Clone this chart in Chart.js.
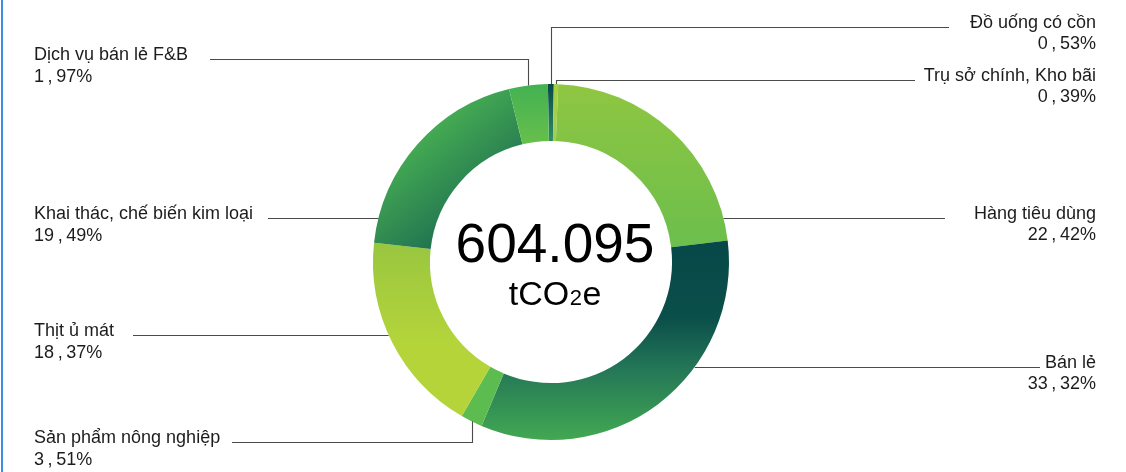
<!DOCTYPE html>
<html>
<head>
<meta charset="utf-8">
<script src="https://cdn.jsdelivr.net/npm/chart.js@4.4.1/dist/chart.umd.min.js"></script>
<style>
  html, body { margin: 0; padding: 0; background: #fff; }
  .wrap { position: relative; width: 1126px; height: 472px; overflow: hidden; }
  .edge { position: absolute; left: 1px; top: 0; width: 2px; height: 472px; background: #3a8ee4; }
</style>
</head>
<body>
<div class="wrap">
  <canvas id="mixChart" width="1126" height="472"></canvas>
  <div class="edge"></div>
</div>
<script>
// Emission sectors, clockwise from 12 o'clock
const categories = [
    'Đồ uống có cồn',
    'Trụ sở chính, Kho bãi',
    'Hàng tiêu dùng',
    'Bán lẻ',
    'Sản phẩm nông nghiệp',
    'Thịt ủ mát',
    'Khai thác, chế biến kim loại',
    'Dịch vụ bán lẻ F&B'
];
// wedge sizes as drawn in the picture (%)
const shares = [0.53, 0.39, 22.42, 33.32, 1.97, 18.37, 19.49, 3.51];
// percentages as printed next to each label
const shareLabels = ['0,53%', '0,39%', '22,42%', '33,32%', '3,51%', '18,37%', '19,49%', '1,97%'];
const totalValue = '604.095';
const totalUnit = ['tCO', '2', 'e'];

// label placement: side, leader line y, outer end of the line, elbow into the ring or not
const labelLayout = [
    { side: 'right', y: 27,  lineEnd: 949,  elbow: true },
    { side: 'right', y: 80,  lineEnd: 915,  elbow: true },
    { side: 'right', y: 218, lineEnd: 945,  elbow: false },
    { side: 'right', y: 367, lineEnd: 1040, elbow: false },
    { side: 'left',  y: 442, lineEnd: 232,  elbow: true },
    { side: 'left',  y: 335, lineEnd: 133,  elbow: false },
    { side: 'left',  y: 218, lineEnd: 268,  elbow: false },
    { side: 'left',  y: 59,  lineEnd: 210,  elbow: true }
];

// fills: points are relative to the ring centre, in units of the outer radius
const fills = [
    { from: [0, -1], to: [0, -0.7], stops: [[0, '#0a4746'], [1, '#2c8a6a']] },
    { color: '#a4cf47' },
    { from: [0, -1], to: [0, 0.05], stops: [[0, '#8fc641'], [1, '#67bd4e']] },
    { from: [0, -0.05], to: [0, 1], stops: [[0, '#074948'], [0.35, '#0b4f4a'], [0.62, '#247757'], [1, '#42a852']] },
    { color: '#5dbc50' },
    { from: [0, -0.12], to: [0, 0.45], stops: [[0, '#98c640'], [1, '#b4d43a']] },
    { from: [-0.95, -0.6], to: [-0.5, -0.05], stops: [[0, '#48b153'], [1, '#196650']] },
    { from: [0, -1], to: [0, -0.62], stops: [[0, '#43b152'], [1, '#6cc14b']] }
];

const FONT = '"Liberation Sans", Arial, sans-serif';

function segmentFill(context) {
    const f = fills[context.dataIndex];
    const area = context.chart.chartArea;
    if (f.color) return f.color;
    if (!area) return f.stops[0][1];
    const cx = (area.left + area.right) / 2;
    const cy = (area.top + area.bottom) / 2;
    const r = Math.min(area.right - area.left, area.bottom - area.top) / 2;
    const g = context.chart.ctx.createLinearGradient(
        cx + f.from[0] * r, cy + f.from[1] * r,
        cx + f.to[0] * r, cy + f.to[1] * r);
    f.stops.forEach(s => g.addColorStop(s[0], s[1]));
    return g;
}

function spaced(txt) {
    return txt.replace(',', '\u2009,\u2009');
}

const calloutPlugin = {
    id: 'callouts',
    afterDraw(chart) {
        const ctx = chart.ctx;
        const arcs = chart.getDatasetMeta(0).data;
        ctx.save();

        categories.forEach((name, i) => {
            const arc = arcs[i];
            const L = labelLayout[i];
            const R = arc.outerRadius;
            const mid = (arc.startAngle + arc.endAngle) / 2;
            const ly = Math.round(L.y) + 0.5;

            ctx.strokeStyle = '#4b4b4b';
            ctx.lineWidth = 1.1;
            ctx.beginPath();
            if (L.elbow) {
                const ax = Math.round(arc.x + R * Math.cos(mid)) + 0.5;
                const ay = arc.y + R * Math.sin(mid);
                ctx.moveTo(L.lineEnd, ly);
                ctx.lineTo(ax, ly);
                ctx.lineTo(ax, ay);
            } else {
                const dy = L.y - arc.y;
                const dx = Math.sqrt(Math.max(R * R - dy * dy, 0));
                ctx.moveTo(L.lineEnd, ly);
                ctx.lineTo(L.side === 'left' ? arc.x - dx : arc.x + dx, ly);
            }
            ctx.stroke();

            ctx.fillStyle = '#1c1c1c';
            ctx.font = '18px ' + FONT;
            ctx.textBaseline = 'alphabetic';
            if (L.side === 'left') {
                ctx.textAlign = 'left';
                ctx.fillText(name, 34, L.y + 1);
                ctx.fillText(spaced(shareLabels[i]), 34, L.y + 23);
            } else {
                ctx.textAlign = 'right';
                ctx.fillText(name, 1096, L.y + 1);
                ctx.fillText(spaced(shareLabels[i]), 1096, L.y + 22);
            }
        });

        // total in the hole
        const c = arcs[0];
        const tx = c.x + 4;
        ctx.fillStyle = '#000';
        ctx.textAlign = 'center';
        ctx.font = '55px ' + FONT;
        ctx.fillText(totalValue, tx, c.y);

        const big = '34px ' + FONT, small = '22px ' + FONT;
        ctx.font = big;
        const w0 = ctx.measureText(totalUnit[0]).width;
        const w2 = ctx.measureText(totalUnit[2]).width;
        ctx.font = small;
        const w1 = ctx.measureText(totalUnit[1]).width + 1;
        let x = tx - (w0 + w1 + w2) / 2;
        const base = c.y + 43;
        ctx.textAlign = 'left';
        ctx.font = big;
        ctx.fillText(totalUnit[0], x, base);
        x += w0;
        ctx.font = small;
        ctx.fillText(totalUnit[1], x + 0.5, base);
        x += w1;
        ctx.font = big;
        ctx.fillText(totalUnit[2], x, base);

        ctx.restore();
    }
};

document.addEventListener('DOMContentLoaded', () => {
    const ctx = document.getElementById('mixChart').getContext('2d');
    new Chart(ctx, {
        type: 'doughnut',
        data: {
            labels: categories,
            datasets: [{
                data: shares,
                backgroundColor: segmentFill,
                borderWidth: 0
            }]
        },
        options: {
            responsive: false,
            devicePixelRatio: 1,
            animation: false,
            events: [],
            cutout: '68%',
            rotation: -1,
            layout: { padding: { left: 373, right: 397, top: 84, bottom: 32 } },
            plugins: {
                legend: { display: false },
                tooltip: { enabled: false }
            }
        },
        plugins: [calloutPlugin]
    });
});
</script>
</body>
</html>
